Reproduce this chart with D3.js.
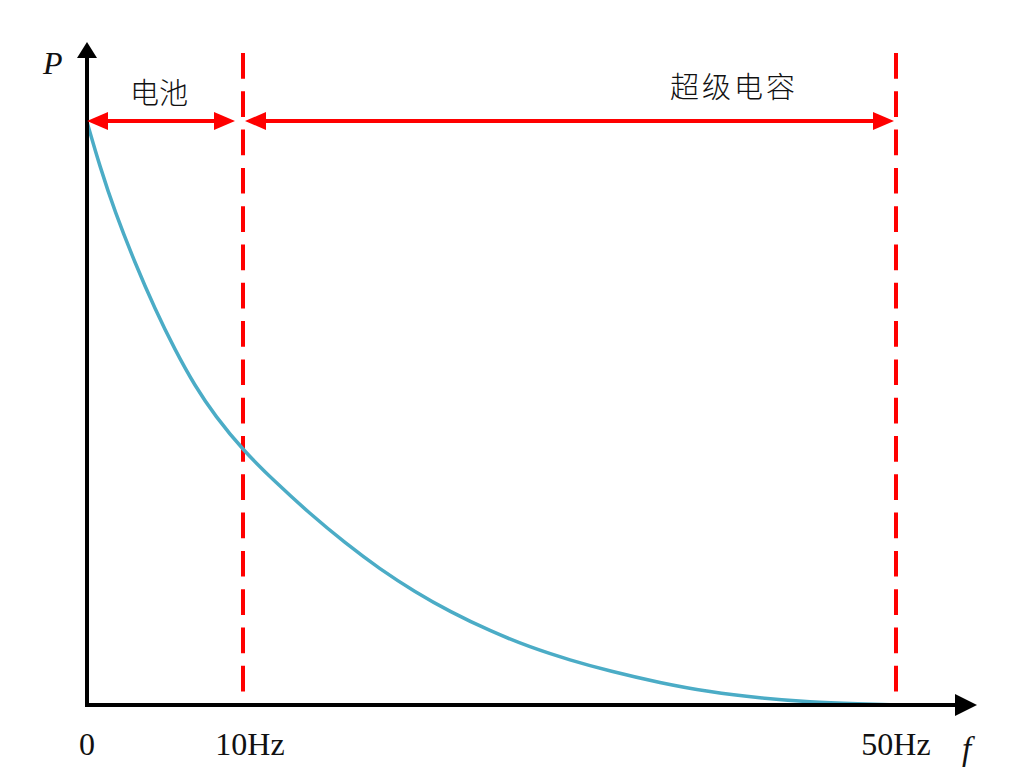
<!DOCTYPE html>
<html>
<head>
<meta charset="utf-8">
<script src="https://cdn.jsdelivr.net/npm/d3@7"></script>
<style>
  html, body { margin: 0; padding: 0; background: #fff; }
  svg { display: block; }
</style>
</head>
<body>
<script>
// ---- data ----
const freqHz = [0, 0.83, 1.79, 3.08, 4.36, 5.64, 6.92, 8.21, 10, 11.96, 14.10, 16.25, 18.39, 20.54, 22.68, 25.13, 27.58, 30.03, 32.48, 35.54, 38.61, 41.67, 44.73, 47.80, 50];
const power  = [1, 0.923, 0.846, 0.758, 0.679, 0.609, 0.547, 0.496, 0.437, 0.383, 0.328, 0.278, 0.233, 0.194, 0.160, 0.127, 0.099, 0.077, 0.058, 0.038, 0.022, 0.012, 0.005, 0.002, 0];
const tickValues = [0, 10, 50];
const tickLabels = ["0", "10Hz", "50Hz"];
const boundaries = [10, 50];
const bandLabels = ["电池", "超级电容"];
const bandFrom = [0, 10];
const bandTo = [10, 50];

const W = 1029, H = 784;
const svg = d3.select("body").append("svg").attr("width", W).attr("height", H);

// schematic (piecewise) frequency axis
const x = d3.scaleLinear().domain([0, 10, 50]).range([87, 243, 896]);
const y = d3.scaleLinear().domain([0, 1]).range([705, 122]);

const red = "#ff0000";
const teal = "#4bacc6";

// dashed boundaries
svg.selectAll("line.bound").data(boundaries).enter().append("line")
  .attr("class", "bound")
  .attr("x1", d => x(d)).attr("x2", d => x(d))
  .attr("y1", 53).attr("y2", 692)
  .attr("stroke", red).attr("stroke-width", 4)
  .attr("stroke-dasharray", "25.7 12.6");

// curve
const pts = freqHz.map((f, i) => [f, power[i]]);
svg.append("path")
  .datum(pts)
  .attr("fill", "none")
  .attr("stroke", teal)
  .attr("stroke-width", 3.5)
  .attr("d", d3.line().x(d => x(d[0])).y(d => y(d[1])).curve(d3.curveBasis));

// axes
svg.append("line").attr("x1", 87).attr("x2", 87).attr("y1", 707).attr("y2", 56)
  .attr("stroke", "#000").attr("stroke-width", 4);
svg.append("path").attr("d", "M87,42 L77,58 L97,58 Z").attr("fill", "#000");
svg.append("line").attr("x1", 85).attr("x2", 958).attr("y1", 705).attr("y2", 705)
  .attr("stroke", "#000").attr("stroke-width", 4);
svg.append("path").attr("d", "M977,705 L955,694 L955,716 Z").attr("fill", "#000");

// band arrows
const ay = 121;
function arrowHead(tipX, dir) {
  const b = tipX - dir * 21;
  return `M${tipX},${ay} L${b},${ay - 9} L${b},${ay + 9} Z`;
}
bandLabels.forEach((lab, i) => {
  const x0 = x(bandFrom[i]) + (i === 0 ? 0 : 2);
  const x1 = x(bandTo[i]) - (i === 0 ? 8 : 2);
  svg.append("line").attr("x1", x0 + 10).attr("x2", x1 - 10).attr("y1", ay).attr("y2", ay)
    .attr("stroke", red).attr("stroke-width", 4);
  svg.append("path").attr("d", arrowHead(x0, -1)).attr("fill", red);
  svg.append("path").attr("d", arrowHead(x1, 1)).attr("fill", red);
});

// band labels
svg.append("text").attr("x", (x(0) + x(10)) / 2 - 6).attr("y", 104)
  .attr("text-anchor", "middle")
  .style("font-family", "'Noto Sans CJK SC', sans-serif")
  .style("font-size", "29px").style("font-weight", "300").style("fill", "#111")
  .text(bandLabels[0]);
svg.append("text").attr("x", 734).attr("y", 98)
  .attr("text-anchor", "middle")
  .style("font-family", "'Noto Sans CJK SC', sans-serif")
  .style("font-size", "29px").style("font-weight", "300").style("letter-spacing", "3px").style("fill", "#111")
  .text(bandLabels[1]);

// tick labels
const tickOffsets = [0, 7, 0];
svg.selectAll("text.tick").data(tickValues).enter().append("text")
  .attr("class", "tick")
  .attr("x", (d, i) => x(d) + tickOffsets[i])
  .attr("y", 755)
  .attr("text-anchor", "middle")
  .style("font-family", "'Liberation Serif', 'Times New Roman', serif")
  .style("font-size", "32px").style("fill", "#111")
  .text((d, i) => tickLabels[i]);

// axis titles
svg.append("text").attr("x", 43).attr("y", 74)
  .style("font-family", "'Liberation Serif', 'Times New Roman', serif")
  .style("font-style", "italic").style("font-size", "32px").style("fill", "#111")
  .text("P");
svg.append("text").attr("x", 962).attr("y", 760)
  .style("font-family", "'Liberation Serif', 'Times New Roman', serif")
  .style("font-style", "italic").style("font-size", "33px").style("fill", "#111")
  .text("f");
</script>
</body>
</html>
